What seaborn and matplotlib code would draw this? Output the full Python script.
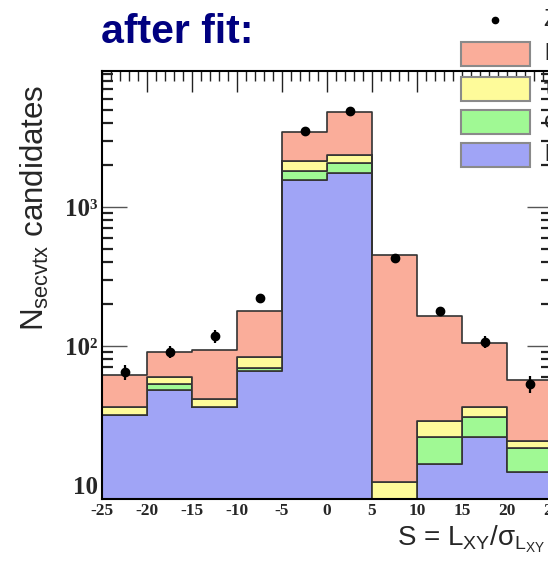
import numpy as np
import pandas as pd
import matplotlib
matplotlib.use("Agg")
import matplotlib.pyplot as plt
from matplotlib.ticker import MultipleLocator, FixedLocator, LogLocator, NullFormatter
from matplotlib.patches import Rectangle
from matplotlib.lines import Line2D
import seaborn as sns

# ---------------- data ----------------
bin_edges = [-25, -20, -15, -10, -5, 0, 5, 10, 15, 20, 25]
bin_centers = [-22.5, -17.5, -12.5, -7.5, -2.5, 2.5, 7.5, 12.5, 17.5, 22.5]
comp_b = [25.8, 30.4, 51.9, 94.8, 1301, 2434, 441.6, 136, 68.5, 35.5]
comp_tau = [4, 6.6, 5.4, 14.6, 327, 306, 10.4, 7.1, 5.3, 2.4]
comp_c = [0, 5, 0, 3, 260, 314, 0, 7.8, 8.5, 6.1]
comp_light = [32, 48, 36, 66, 1556, 1746, 0, 14.1, 22.2, 12.3]
data_counts = [65, 91, 117, 222, 3540, 4910, 428, 177, 107, 53]
data_errors = [8, 9.5, 12, 15, 60, 70, 21, 13, 10, 7.3]
components = ["b", "τ", "c", "l"]
comp_colors = ["#FAAD9A", "#FEFB9A", "#A0F994", "#A0A4F6"]
legend_labels = ["Z data", "b", "τ", "c", "l"]
x_ticks = [-25, -20, -15, -10, -5, 0, 5, 10, 15, 20, 25]
y_ticks = [10, 100, 1000]
y_ticklabels = ["10", "10²", "10³"]

# ---------------- styling ----------------
sns.set_style("ticks")
plt.rcParams["font.family"] = ["Liberation Sans", "DejaVu Sans"]
plt.rcParams["mathtext.fontset"] = "custom"
plt.rcParams["mathtext.rm"] = "Liberation Sans"
plt.rcParams["mathtext.it"] = "Liberation Sans:italic"
plt.rcParams["mathtext.bf"] = "Liberation Sans:bold"

W, H = 548, 569
fig = plt.figure(figsize=(W / 100, H / 100), dpi=100)
ax_l, ax_r, ax_t, ax_b = 102, 552, 71, 499
ax = fig.add_axes([ax_l / W, 1 - ax_b / H, (ax_r - ax_l) / W, (ax_b - ax_t) / H])

rows = []
vals = {"b": comp_b, "τ": comp_tau, "c": comp_c, "l": comp_light}
for comp in components:
    for xc, v in zip(bin_centers, vals[comp]):
        rows.append({"S": xc, "N": v, "comp": comp})
df = pd.DataFrame(rows)

sns.histplot(data=df, x="S", weights="N", hue="comp", hue_order=components,
             palette=comp_colors, multiple="stack", bins=bin_edges,
             element="step", alpha=1.0, edgecolor="#333333", linewidth=1.2,
             legend=False, ax=ax)

ax.set_yscale("log")
ax.errorbar(bin_centers, data_counts, yerr=data_errors, fmt="o", color="black",
            ms=6, elinewidth=1.6, capsize=0, zorder=10)

ax.set_xlim(-25, 25)
ax.set_ylim(7.9, 9500)
ax.set_xlabel("")
ax.set_ylabel("")

ax.xaxis.set_major_locator(FixedLocator(x_ticks))
ax.xaxis.set_minor_locator(MultipleLocator(1))
ax.set_xticklabels([str(t) for t in x_ticks], fontfamily="Liberation Serif",
                   fontweight="bold", fontsize=12.5)
ax.yaxis.set_major_locator(FixedLocator(y_ticks))
ax.yaxis.set_minor_locator(LogLocator(base=10, subs=np.arange(2, 10)))
ax.yaxis.set_minor_formatter(NullFormatter())
ax.set_yticklabels(y_ticklabels, fontfamily="Liberation Serif",
                   fontweight="bold", fontsize=18)

ax.tick_params(axis="x", which="major", direction="in", top=True, bottom=True,
               length=15, width=1.0, color="#222", pad=3)
ax.tick_params(axis="x", which="minor", direction="in", top=True, bottom=True,
               length=7.5, width=1.0, color="#222")
ax.tick_params(axis="y", which="major", direction="in", left=True, right=True,
               length=18, width=1.0, color="#555", pad=3)
ax.tick_params(axis="y", which="minor", direction="in", left=True, right=True,
               length=8, width=1.6, color="#222")
for sp in ax.spines.values():
    sp.set_visible(True)
    sp.set_color("black")
    sp.set_linewidth(1.5)

# title
fig.text(101 / W, 1 - 43 / H, "after fit:", fontsize=29.5, fontweight="bold",
         color="#000080", ha="left", va="baseline")

# axis titles
fig.text(35 / W, 1 - 208 / H, r"N$_{\mathrm{secvtx}}$ candidates", rotation=90,
         fontsize=22.5, ha="center", va="center")
fig.text(397 / W, 1 - 545 / H, r"S = L$_{\mathrm{XY}}$/σ$_{\mathrm{L_{XY}}}$",
         fontsize=20, ha="left", va="baseline")

# legend (cut by the right edge as in the reference)
fig.add_artist(Line2D([495 / W], [1 - 20 / H], marker="o", ms=4.5, color="black",
                      transform=fig.transFigure, linestyle="none"))
box_tops = [42, 77, 110, 143]
for top, col in zip(box_tops, comp_colors):
    fig.add_artist(Rectangle((461 / W, 1 - (top + 24) / H), 69 / W, 24 / H,
                             facecolor=col, edgecolor="#8a8a8a", linewidth=1.5,
                             transform=fig.transFigure))
label_y = [20] + [t + 12 for t in box_tops]
for yy, lab in zip(label_y, legend_labels):
    fig.text(544 / W, 1 - yy / H, lab, fontsize=17, ha="left", va="center")

fig.savefig("out.png", dpi=100)
